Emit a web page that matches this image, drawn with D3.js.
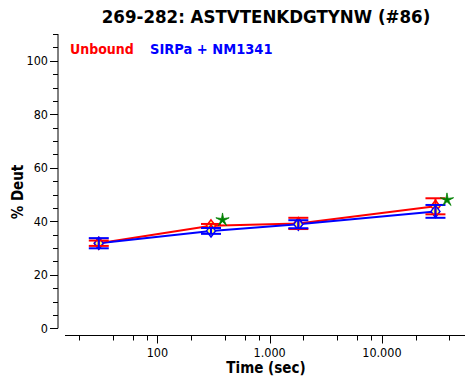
<!DOCTYPE html>
<html>
<head>
<meta charset="utf-8">
<script src="https://cdn.jsdelivr.net/npm/d3@7"></script>
<style>
  html, body { margin: 0; padding: 0; background: #fff; }
  svg { display: block; }
  text { font-family: "DejaVu Sans Condensed", "DejaVu Sans", sans-serif; font-stretch: condensed; }
</style>
</head>
<body>
<svg id="chart" width="465" height="379"></svg>
<script>
// Deuteration uptake for peptide 269-282
const chartTitle = "269-282: ASTVTENKDGTYNW (#86)";
const times = [30, 300, 1800, 30000];              // seconds
const unboundValues = [31.8, 38.3, 39.2, 45.6];    // % Deut
const unboundErrors = [1.0, 0.7, 2.1, 3.0];
const complexValues = [31.8, 36.4, 38.9, 43.7];
const complexErrors = [1.9, 1.1, 1.5, 2.4];
const seriesNames = ["Unbound", "SIRPa + NM1341"];
const starTimes = [380, 38000];                    // significance markers
const starValues = [40.5, 48.0];
const yTicks = [0, 20, 40, 60, 80, 100];
const xTickLabels = ["100", "1.000", "10.000"];

const svg = d3.select("#chart");

const x = d3.scaleLog().domain([15, 55000]).range([65, 465]);
const y = d3.scaleLinear().domain([0, 110]).range([328.3, 34]);

// Title
svg.append("text")
  .attr("x", 266).attr("y", 23)
  .attr("text-anchor", "middle")
  .attr("font-weight", "bold")
  .attr("font-size", 18.5)
  .text(chartTitle);

// Y axis
const yAxisX = 58;
const yAxis = svg.append("g");
yAxis.append("line")
  .attr("x1", yAxisX).attr("x2", yAxisX)
  .attr("y1", y(110)).attr("y2", y(0))
  .attr("stroke", "#000").attr("stroke-width", 1);
d3.range(0, 111, 5).forEach(v => {
  const major = v % 20 === 0 && v <= 100;
  yAxis.append("line")
    .attr("x1", yAxisX - (major ? 8 : 5)).attr("x2", yAxisX)
    .attr("y1", Math.round(y(v)) + 0.5).attr("y2", Math.round(y(v)) + 0.5)
    .attr("stroke", "#000").attr("stroke-width", 1);
});
yAxis.selectAll("text.ytick").data(yTicks).join("text")
  .attr("class", "ytick")
  .attr("x", 48).attr("y", d => y(d))
  .attr("dy", "0.35em")
  .attr("text-anchor", "end")
  .attr("font-size", 12.5)
  .text(d => d);

// X axis (log scale with minor ticks at 2,4,6,8 per decade)
const xAxisY = 335.5;
const xAxis = svg.append("g");
xAxis.append("line")
  .attr("x1", 65).attr("x2", 465)
  .attr("y1", xAxisY).attr("y2", xAxisY)
  .attr("stroke", "#000").attr("stroke-width", 1);
const tickVals = [];
[10, 100, 1000, 10000].forEach(dec => {
  [1, 2, 4, 6, 8].forEach(m => {
    const v = dec * m;
    if (v >= 15 && v <= 55000) tickVals.push({ v, major: m === 1 });
  });
});
xAxis.selectAll("line.xtick").data(tickVals).join("line")
  .attr("class", "xtick")
  .attr("x1", d => Math.round(x(d.v)) + 0.5).attr("x2", d => Math.round(x(d.v)) + 0.5)
  .attr("y1", xAxisY).attr("y2", d => xAxisY + (d.major ? 8 : 5))
  .attr("stroke", "#000").attr("stroke-width", 1);
xAxis.selectAll("text.xlabel").data([100, 1000, 10000]).join("text")
  .attr("class", "xlabel")
  .attr("x", d => x(d)).attr("y", 357)
  .attr("text-anchor", "middle")
  .attr("font-size", 12.5)
  .text((d, i) => xTickLabels[i]);

// Axis titles
svg.append("text")
  .attr("x", 266).attr("y", 373)
  .attr("text-anchor", "middle")
  .attr("font-weight", "bold")
  .attr("font-size", 15)
  .text("Time (sec)");
svg.append("text")
  .attr("transform", "translate(23,192) rotate(-90)")
  .attr("text-anchor", "middle")
  .attr("font-weight", "bold")
  .attr("font-size", 15)
  .text("% Deut");

// Legend
svg.append("text")
  .attr("x", 70).attr("y", 54)
  .attr("font-weight", "bold").attr("font-size", 14)
  .attr("fill", "#ff0000")
  .text(seriesNames[0]);
svg.append("text")
  .attr("x", 150).attr("y", 54)
  .attr("font-weight", "bold").attr("font-size", 14.5)
  .attr("fill", "#0000ff")
  .text(seriesNames[1]);

const series = [
  { values: unboundValues, errors: unboundErrors, color: "#ff0000" },
  { values: complexValues, errors: complexErrors, color: "#0000ff" }
];

const line = d3.line().x(d => x(d.t)).y(d => y(d.v));

// Lines
series.forEach(s => {
  const pts = times.map((t, i) => ({ t, v: s.values[i] }));
  svg.append("path")
    .datum(pts)
    .attr("d", line)
    .attr("fill", "none")
    .attr("stroke", s.color)
    .attr("stroke-width", 2);
});

// Diamond markers
const diamond = (cx, cy) => `M${cx},${cy - 6}L${cx + 4.5},${cy}L${cx},${cy + 6}L${cx - 4.5},${cy}Z`;
series.forEach(s => {
  svg.append("g").selectAll("path")
    .data(times.map((t, i) => ({ t, v: s.values[i] })))
    .join("path")
    .attr("d", d => diamond(x(d.t), y(d.v)))
    .attr("fill", "#ffff66")
    .attr("stroke", s.color)
    .attr("stroke-width", 1.5);
});

// Error bars
series.forEach(s => {
  const g = svg.append("g")
    .attr("stroke", s.color).attr("stroke-width", 2).attr("fill", "none");
  times.forEach((t, i) => {
    const cx = x(t);
    const hi = y(s.values[i] + s.errors[i]);
    const lo = y(s.values[i] - s.errors[i]);
    g.append("line").attr("x1", cx).attr("x2", cx).attr("y1", hi).attr("y2", lo);
    g.append("line").attr("x1", cx - 10).attr("x2", cx + 10).attr("y1", hi).attr("y2", hi);
    g.append("line").attr("x1", cx - 10).attr("x2", cx + 10).attr("y1", lo).attr("y2", lo);
  });
});

// Significance stars (thin five-armed star)
const starPath = d3.lineRadial().curve(d3.curveLinearClosed)
  .angle(d => d.a).radius(d => d.r);
const starPts = d3.range(10).map(k => ({ a: k * Math.PI / 5, r: k % 2 === 0 ? 7 : 1.8 }));
svg.append("g").selectAll("path")
  .data(starTimes.map((t, i) => ({ t, v: starValues[i] })))
  .join("path")
  .attr("transform", d => `translate(${x(d.t)},${y(d.v)})`)
  .attr("d", starPath(starPts))
  .attr("fill", "#008000")
  .attr("stroke", "#008000")
  .attr("stroke-width", 0.8);
</script>
</body>
</html>
